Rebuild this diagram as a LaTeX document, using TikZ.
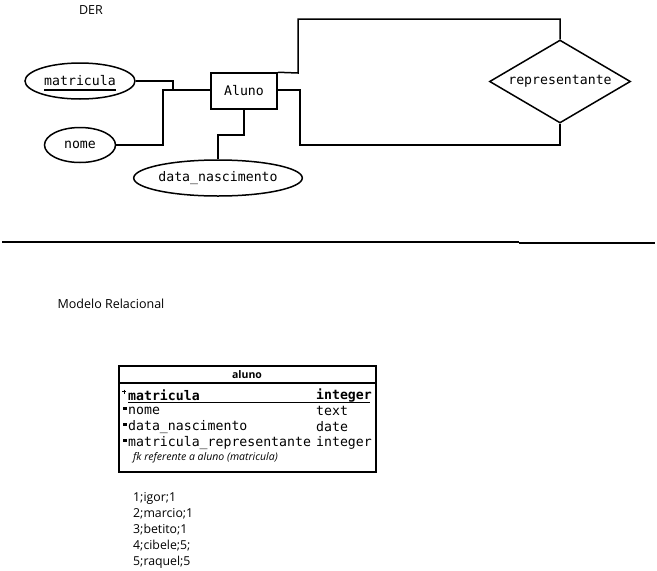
\documentclass[tikz,border=0pt]{standalone}
\usepackage{fontspec}
\setmainfont{Open Sans}
\newfontfamily\monof{DejaVu Sans Mono}
\usetikzlibrary{shapes.geometric}
\begin{document}
\begin{tikzpicture}[x=1pt,y=-1pt,
  conn/.style={line width=1.5pt,line join=miter},
  attr/.style={ellipse,draw,line width=1.5pt,inner sep=0pt,font=\monof\fontsize{13.2}{15}\selectfont},
  ent/.style={rectangle,draw,line width=1.5pt,inner sep=0pt,font=\monof\fontsize{13.2}{15}\selectfont},
  rel/.style={diamond,draw,line width=1.5pt,inner sep=0pt,aspect=1.7,font=\monof\fontsize{13.2}{15}\selectfont},
  lbl/.style={font=\fontsize{12.5}{14}\selectfont,inner sep=0pt},
  mono/.style={font=\monof\fontsize{13.2}{15}\selectfont,inner sep=0pt,anchor=west},
  monob/.style={font=\monof\bfseries\fontsize{13.2}{15}\selectfont,inner sep=0pt,anchor=west},
  datum/.style={font=\fontsize{12.3}{14}\selectfont,inner sep=0pt,anchor=west}]
\useasboundingbox (0,0) rectangle (657,571);
% DER
\node[lbl] (der) at (91,10) {DER};
\node[attr,minimum width=110pt,minimum height=36pt] (mat) at (80,81) {matricula};
\draw[line width=1.5pt] (44,90) -- (116,90);
\node[attr,minimum width=71pt,minimum height=35pt] (nome) at (80,145) {nome};
\node[attr,minimum width=157pt,minimum height=36pt] (dn) at (218,178) {data\_nascimento};
\node[ent,minimum width=66pt,minimum height=36pt] (aluno) at (244,91) {Aluno};
\node[rel,minimum width=141pt,minimum height=83pt] (rep) at (560,81.5) {representante};
\draw[conn] (mat.east) -- (173,81) -- (173,90);
\draw[conn] (nome.east) -- (163,145) -- (163,90) -- (aluno.west |- 0,90);
\draw[conn] (dn.north) -- (218,135) -- (244,135) -- (aluno.south);
\draw[conn] (aluno.north east) -- (298,73) -- (298,19) -- (560,19) -- (rep.north);
\draw[conn] (aluno.east |- 0,90) -- (300,90) -- (300,145) -- (560,145) -- (rep.south);
% separator
\draw[conn] (2,242) -- (519,242);
\draw[conn] (519,243) -- (655,243);
% relational
\node[lbl] (mr) at (111,304) {Modelo Relacional};
\draw[line width=1.5pt] (119,366) rectangle (376,472);
\draw[line width=1.5pt] (119,383) -- (376,383);
\node[font=\bfseries\fontsize{10.5}{12}\selectfont,inner sep=0pt] (tname) at (247,375) {aluno};
\node[monob] (r1) at (128,395) {matricula};
\node[monob] (t1) at (316,395) {integer};
\draw[line width=1pt] (128,402) -- (370,402);
\node[mono] (r2) at (128,411) {nome};
\node[mono] (t2) at (316,411) {text};
\node[mono] (r3) at (128,427) {data\_nascimento};
\node[mono] (t3) at (316,427) {date};
\node[mono] (r4) at (128,443) {matricula\_representante};
\node[mono] (t4) at (316,443) {integer};
\node[font=\itshape\fontsize{10.5}{12}\selectfont,inner sep=0pt,anchor=west] (fk) at (133,458) {fk referente a aluno (matricula)};
% markers
\draw[line width=0.8pt] (122,391.5) -- (126,391.5) (124,389.5) -- (124,393.5);
\fill (122.5,406.5) rectangle (126.5,410);
\fill (122.5,422.5) rectangle (126.5,426);
\fill (122.5,438.5) rectangle (126.5,442);
% data
\node[datum] (d1) at (133,498) {1;igor;1};
\node[datum] (d2) at (133,514) {2;marcio;1};
\node[datum] (d3) at (133,530) {3;betito;1};
\node[datum] (d4) at (133,546) {4;cibele;5;};
\node[datum] (d5) at (133,562) {5;raquel;5};
\end{tikzpicture}
\end{document}
